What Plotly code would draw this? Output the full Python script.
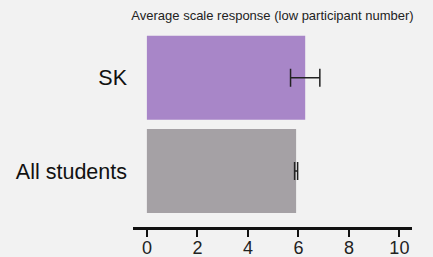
import plotly.graph_objects as go

categories = ["All students", "SK"]
values = [5.91, 6.27]
errors = [0.06, 0.58]
colors = ["#a5a1a5", "#a886c8"]
x_ticks = [0, 2, 4, 6, 8, 10]

fig = go.Figure(go.Bar(
    y=categories, x=values, orientation="h",
    marker=dict(color=colors, line=dict(width=0)),
    error_x=dict(type="data", array=errors, color="#222222", thickness=1.5, width=9),
))

fig.update_layout(
    width=433, height=257,
    margin=dict(l=133, r=21, t=31, b=30, autoexpand=False),
    paper_bgcolor="#f2f2f2", plot_bgcolor="#f2f2f2",
    bargap=0.1,
    showlegend=False,
    font=dict(family="Liberation Sans, Arial", color="#111111"),
    title=dict(text="Average scale response (low participant number)",
               x=0.5, xref="paper", xanchor="center", y=1 - 15/257, yanchor="middle",
               font=dict(size=13, color="#222222")),
    xaxis=dict(range=[-0.55, 10.5], tickvals=x_ticks, showgrid=False, zeroline=False,
               showline=True, linecolor="#111111", linewidth=2.5, automargin=False,
               ticks="outside", ticklen=7, tickwidth=2, tickcolor="#111111",
               ticklabelstandoff=-4,
               tickfont=dict(size=18, color="#222222")),
    yaxis=dict(range=[-0.6, 1.5], showgrid=False, zeroline=False, showline=False,
               ticks="", ticklabelstandoff=5, automargin=False,
               tickfont=dict(size=21.5, color="#111111")),
)

fig.write_html("out.html", config={"displayModeBar": False},
               post_script="document.body.style.margin='0';document.body.style.background='#f2f2f2';")
